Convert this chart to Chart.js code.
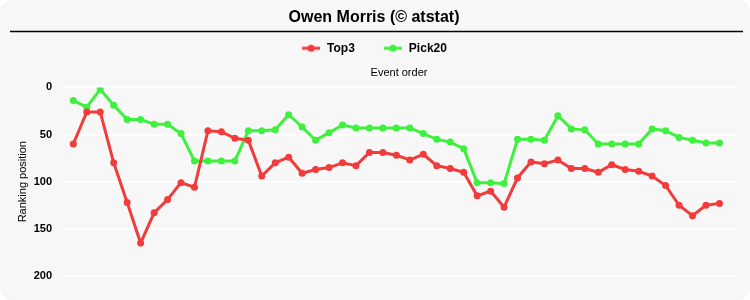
<!DOCTYPE html>
<html>
<head>
<meta charset="utf-8">
<script src="https://cdn.jsdelivr.net/npm/chart.js@4"></script>
<style>
  html, body { margin: 0; padding: 0; background: #ffffff; }
  #wrap { width: 750px; height: 300px; background: #f7f7f7; border-radius: 12px; overflow: hidden; }
</style>
</head>
<body>
<div id="wrap"><canvas id="chart" width="750" height="300"></canvas></div>
<script>
// ranking position per event (lower is better)
const events = Array.from({ length: 49 }, (_, i) => i + 1);
const top3 = [60, 26, 26, 80, 122, 165, 133, 119, 101, 106, 46, 47, 54, 56, 94, 80, 74, 91, 87, 85,
  80, 83, 69, 69, 72, 77, 71, 83, 86, 90, 115, 110, 127, 96, 79, 81, 77, 86, 86, 90,
  82, 87, 89, 94, 104, 125, 136, 125, 123];
const pick20 = [14, 21, 2, 19, 34, 34, 39, 39, 49, 78, 78, 78, 78, 46, 46, 45, 29, 42, 56, 48,
  40, 43, 43, 43, 43, 43, 49, 55, 58, 65, 101, 101, 102, 55, 55, 56, 30, 44, 45, 60,
  60, 60, 60, 44, 46, 53, 56, 59, 59];
const yTicks = [0, 50, 100, 150, 200];

const RED = '#f23b3b';
const GREEN = '#3ff03f';
const FONT = 'Liberation Sans, Arial, sans-serif';

// little line-with-dot marker for the legend
function legendMarker(color) {
  const c = document.createElement('canvas');
  c.width = 20; c.height = 10;
  const g = c.getContext('2d');
  g.strokeStyle = color; g.lineWidth = 3;
  g.beginPath(); g.moveTo(1, 5); g.lineTo(19, 5); g.stroke();
  g.fillStyle = color;
  g.beginPath(); g.arc(10, 5, 3.5, 0, Math.PI * 2); g.fill();
  return c;
}

// underline below the title
const titleRule = {
  id: 'titleRule',
  afterDraw(chart) {
    const ctx = chart.ctx;
    const y = Math.round(chart.titleBlock.top) + 31.5;
    ctx.save();
    ctx.strokeStyle = '#000';
    ctx.lineWidth = 1.5;
    ctx.beginPath(); ctx.moveTo(10, y); ctx.lineTo(743, y); ctx.stroke();
    ctx.restore();
  }
};

const series = (vals) => vals.map((v, i) => ({ x: events[i], y: v }));

new Chart(document.getElementById('chart'), {
  type: 'line',
  data: {
    datasets: [
      { label: 'Top3', data: series(top3), borderColor: RED, backgroundColor: RED,
        borderWidth: 3, pointRadius: 3.5, pointBorderWidth: 0, pointHoverRadius: 4, tension: 0 },
      { label: 'Pick20', data: series(pick20), borderColor: GREEN, backgroundColor: GREEN,
        borderWidth: 3, pointRadius: 3.5, pointBorderWidth: 0, pointHoverRadius: 4, tension: 0 }
    ]
  },
  options: {
    responsive: false,
    animation: false,
    layout: { padding: { left: 12, right: 14, bottom: 24, top: 0 } },
    plugins: {
      title: {
        display: true,
        text: 'Owen Morris (© atstat)',
        color: '#000',
        font: { family: FONT, size: 16, weight: 'bold' },
        padding: { top: 8, bottom: -13 }
      },
      legend: {
        labels: {
          color: '#000',
          font: { family: FONT, size: 12, weight: 'bold' },
          usePointStyle: true,
          pointStyleWidth: 20,
          padding: 28,
          generateLabels(chart) {
            return chart.data.datasets.map((ds, i) => ({
              text: ds.label,
              pointStyle: legendMarker(ds.borderColor),
              fillStyle: ds.borderColor,
              strokeStyle: ds.borderColor,
              lineWidth: 0,
              fontColor: '#000',
              hidden: !chart.isDatasetVisible(i),
              datasetIndex: i
            }));
          }
        }
      },
      tooltip: { enabled: false }
    },
    scales: {
      x: {
        type: 'linear',
        position: 'top',
        min: 0.16,
        max: 50.23,
        grid: { display: false },
        border: { display: false },
        ticks: { display: false },
        title: {
          display: true,
          text: 'Event order',
          color: '#000',
          font: { family: FONT, size: 11 },
          padding: { top: 2, bottom: 0 }
        }
      },
      y: {
        reverse: true,
        min: 0,
        max: 200,
        afterBuildTicks(scale) { scale.ticks = yTicks.map(v => ({ value: v })); },
        afterFit(scale) { scale.width = 50; },
        grid: { color: '#ffffff', lineWidth: 2, drawTicks: false },
        border: { display: false },
        ticks: {
          color: '#000',
          padding: 10,
          font: { family: FONT, size: 11, weight: 'bold' }
        },
        title: {
          display: true,
          text: 'Ranking position',
          color: '#000',
          font: { family: FONT, size: 11 },
          padding: { top: 4, bottom: 4 }
        }
      }
    }
  },
  plugins: [titleRule]
});
</script>
</body>
</html>
